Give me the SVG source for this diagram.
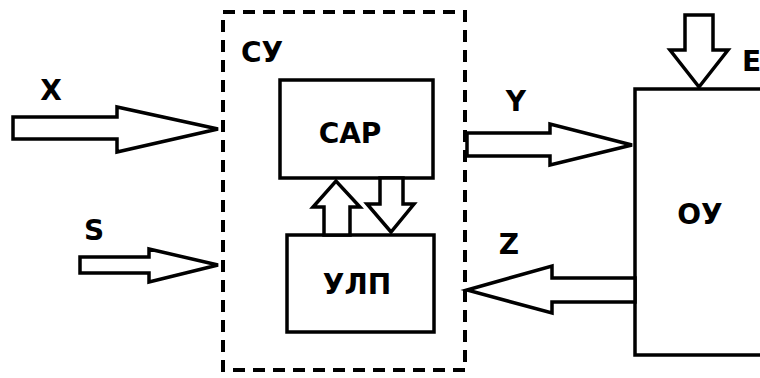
<svg xmlns="http://www.w3.org/2000/svg" width="760" height="378" viewBox="0 0 760 378">
<style>
.box{fill:#fff;stroke:#000;stroke-width:3.5}
.arr{fill:#fff;stroke:#000;stroke-width:3.5;stroke-linejoin:miter}
.dash{fill:none;stroke:#000;stroke-width:4;stroke-dasharray:12 8}
text{font-family:"DejaVu Sans","Liberation Sans",sans-serif;font-weight:bold;font-size:28px;fill:#000}
</style>
<rect width="760" height="378" fill="#fff"/>
<g id="su">
<rect class="dash" x="223" y="12" width="242" height="358"/>
<text x="241" y="62">СУ</text>
</g>
<g id="car">
<rect class="box" x="280" y="80" width="153" height="98"/>
<text x="350" y="143" text-anchor="middle">САР</text>
</g>
<g id="ulp">
<rect class="box" x="287" y="235" width="147" height="97"/>
<text x="357" y="294" text-anchor="middle">УЛП</text>
</g>
<g id="ou">
<rect class="box" x="635" y="89" width="160" height="266"/>
<text x="700" y="224" text-anchor="middle">ОУ</text>
</g>
<g id="connectors">
<polygon class="arr" points="13,117 117,117 117,107 218,129 117,152 117,139 13,139"/>
<polygon class="arr" points="80,257 149,257 149,249 218,265 149,282 149,273 80,273"/>
<polygon class="arr" points="467,133 550,133 550,124 632,145 550,165 550,156 467,156"/>
<polygon class="arr" points="635,278 552,278 552,266 467,290 552,313 552,302 635,302"/>
<polygon class="arr" points="685,15 713,15 713,50 728,50 699,87 670,50 685,50"/>
<polygon class="arr" points="324,235 324,207 313,207 336,181 360,207 350,207 350,235"/>
<polygon class="arr" points="380,178 403,178 403,204 414,204 391,232 367,204 380,204"/>
</g>
<g id="labels">
<text x="51" y="100" text-anchor="middle">X</text>
<text x="94" y="240" text-anchor="middle">S</text>
<text x="516" y="111" text-anchor="middle">Y</text>
<text x="509" y="254" text-anchor="middle">Z</text>
<text x="742" y="71">E</text>
</g>
</svg>
